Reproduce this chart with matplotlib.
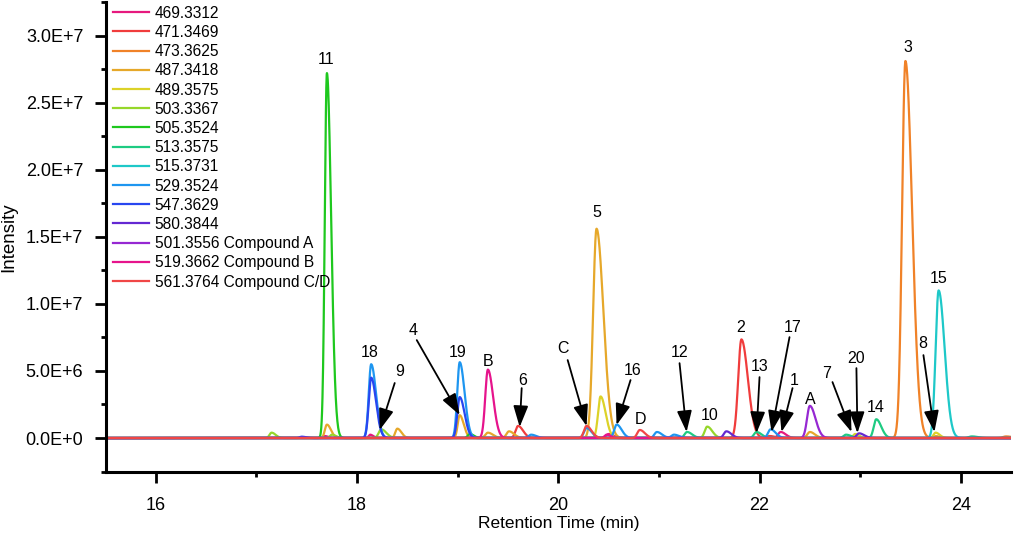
import numpy as np
import matplotlib
matplotlib.use('Agg')
import matplotlib.pyplot as plt
from matplotlib.ticker import MultipleLocator, FuncFormatter

plt.rcParams['font.family'] = ['Liberation Sans', 'DejaVu Sans']

# traces: m/z label, colour, peaks as (retention time min, height 1e6, sigma min)
names = ['469.3312', '471.3469', '473.3625', '487.3418', '489.3575', '503.3367',
         '505.3524', '513.3575', '515.3731', '529.3524', '547.3629', '580.3844',
         '501.3556 Compound A', '519.3662 Compound B', '561.3764 Compound C/D']
colors = ['#E6197E', '#F03C3C', '#F08228', '#E6A82A', '#DCD228', '#96D72A',
          '#1EC81E', '#1ECB82', '#1EC8C8', '#1E96F0', '#2846F0', '#6428D2',
          '#9628D2', '#E6148C', '#F04646']

peaks_469 = [(17.68, 0.15, 0.015), (18.13, 0.25, 0.015), (20.50, 0.3, 0.025), (22.21, 0.45, 0.025)]
peaks_471 = [(21.82, 7.35, 0.032), (19.60, 0.9, 0.025), (22.10, 0.15, 0.025)]
peaks_473 = [(23.45, 28.1, 0.033), (24.45, 0.12, 0.03)]
peaks_487 = [(17.70, 1.0, 0.02), (18.40, 0.7, 0.02), (19.02, 1.7, 0.02), (19.30, 0.4, 0.025),
             (19.51, 0.5, 0.025), (20.38, 15.6, 0.034), (22.50, 0.45, 0.025), (23.75, 0.15, 0.02)]
peaks_489 = [(20.42, 3.1, 0.025), (23.75, 0.4, 0.02), (22.95, 0.3, 0.02)]
peaks_503 = [(17.15, 0.4, 0.02), (17.75, 0.25, 0.02), (18.24, 0.65, 0.025), (21.48, 0.85, 0.025)]
peaks_505 = [(17.70, 27.2, 0.021), (19.12, 0.3, 0.02)]
peaks_513 = [(21.28, 0.45, 0.025), (21.97, 0.45, 0.025), (22.86, 0.25, 0.025),
             (23.16, 1.4, 0.025), (24.11, 0.12, 0.03)]
peaks_515 = [(23.78, 11.0, 0.03)]
peaks_529 = [(18.14, 5.5, 0.024), (19.02, 5.65, 0.024), (20.28, 0.75, 0.025), (20.58, 1.0, 0.025),
             (20.98, 0.45, 0.025), (21.15, 0.25, 0.025), (22.11, 0.65, 0.025), (19.73, 0.25, 0.025)]
peaks_547 = [(18.14, 4.5, 0.024), (19.02, 3.05, 0.024), (17.45, 0.1, 0.02)]
peaks_580 = [(21.67, 0.5, 0.025), (22.99, 0.35, 0.025)]
peaks_501 = [(22.50, 2.4, 0.028)]
peaks_519 = [(19.30, 5.1, 0.026), (20.48, 0.25, 0.02)]
peaks_561 = [(20.28, 0.9, 0.025), (20.81, 0.6, 0.025)]

all_peaks = [peaks_469, peaks_471, peaks_473, peaks_487, peaks_489, peaks_503, peaks_505,
             peaks_513, peaks_515, peaks_529, peaks_547, peaks_580, peaks_501, peaks_519, peaks_561]

# peak labels without arrow: (text, x, y[1e6])
plain_labels = [('11', 17.689, 28.22), ('18', 18.126, 6.40), ('19', 19.00, 6.40),
                ('B', 19.298, 5.73), ('5', 20.381, 16.83), ('D', 20.818, 1.41),
                ('10', 21.503, 1.71), ('2', 21.811, 8.27), ('A', 22.506, 2.90),
                ('14', 23.152, 2.31), ('3', 23.47, 29.11), ('15', 23.778, 11.91)]
# labels with arrows: (text, text xy, arrow start, arrow tip)
arrow_labels = [('9', (18.424, 4.99), (18.374, 4.10), (18.225, 0.60)),
                ('4', (18.553, 8.04), (18.593, 7.30), (19.020, 1.71)),
                ('6', (19.646, 4.32), (19.636, 3.72), (19.616, 0.82)),
                ('C', (20.043, 6.70), (20.093, 5.81), (20.281, 0.89)),
                ('16', (20.738, 5.06), (20.718, 4.32), (20.579, 0.97)),
                ('12', (21.205, 6.40), (21.205, 5.58), (21.275, 0.45)),
                ('13', (22.000, 5.36), (22.000, 4.54), (21.970, 0.37)),
                ('17', (22.328, 8.27), (22.298, 7.52), (22.119, 0.45)),
                ('1', (22.348, 4.32), (22.328, 3.72), (22.218, 0.45)),
                ('7', (22.665, 4.84), (22.725, 4.17), (22.914, 0.45)),
                ('20', (22.963, 5.96), (22.963, 5.21), (22.973, 0.37)),
                ('8', (23.619, 7.07), (23.629, 6.18), (23.738, 0.45))]


def trace(t, peaks):
    y = np.zeros_like(t)
    for rt, h, s in peaks:
        sig = np.where(t < rt, s, s * 2.0)
        y += h * 1e6 * np.exp(-0.5 * ((t - rt) / sig) ** 2)
    return y


t = np.arange(15.5, 24.5, 0.002)

fig = plt.figure(figsize=(10.14, 5.34), dpi=100)
ax = fig.add_axes([0.1041, 0.1169, 0.893, 0.8794])

for name, c, pk in zip(names, colors, all_peaks):
    ax.plot(t, trace(t, pk), color=c, lw=1.6, label=name)

for txt, x, y in plain_labels:
    ax.text(x, y * 1e6, txt, ha='center', va='center', fontsize=11.5)

for txt, tpos, start, tip in arrow_labels:
    ax.text(tpos[0], tpos[1] * 1e6, txt, ha='center', va='center', fontsize=11.5)
    ax.annotate('', xy=(tip[0], tip[1] * 1e6), xytext=(start[0], start[1] * 1e6),
                arrowprops=dict(arrowstyle='-|>,head_length=1.0,head_width=0.35',
                                mutation_scale=13, color='k', lw=1.3,
                                shrinkA=0, shrinkB=0))

ax.set_xlim(15.5, 24.5)
ax.set_ylim(-2.5e6, 32.5e6)
ax.xaxis.set_major_locator(MultipleLocator(2))
ax.xaxis.set_minor_locator(MultipleLocator(1))
ax.yaxis.set_major_locator(MultipleLocator(5e6))
ax.yaxis.set_minor_locator(MultipleLocator(2.5e6))


def sci(v, pos):
    if v == 0:
        return '0.0E+0'
    e = int(np.floor(np.log10(abs(v))))
    return '%.1fE+%d' % (v / 10 ** e, e)


ax.yaxis.set_major_formatter(FuncFormatter(sci))

for s in ['top', 'right']:
    ax.spines[s].set_visible(False)
for s in ['left', 'bottom']:
    ax.spines[s].set_linewidth(2.2)
ax.tick_params(which='major', length=8, width=2, labelsize=13)
ax.tick_params(axis='y', which='major', pad=8)
ax.tick_params(axis='x', which='major', pad=10)
ax.tick_params(which='minor', length=3.6, width=2)

ax.set_xlabel('Retention Time (min)', fontsize=12.5, labelpad=2)
ax.set_ylabel('Intensity', fontsize=13.5, labelpad=6)

leg = ax.legend(loc='upper left', bbox_to_anchor=(0.008, 0.992), frameon=False, fontsize=11.2,
                handlelength=2.3, handletextpad=0.4, labelspacing=0.27,
                borderaxespad=0.0, borderpad=0.0)
for line in leg.get_lines():
    line.set_linewidth(1.6)

fig.savefig('out.png', dpi=100)
